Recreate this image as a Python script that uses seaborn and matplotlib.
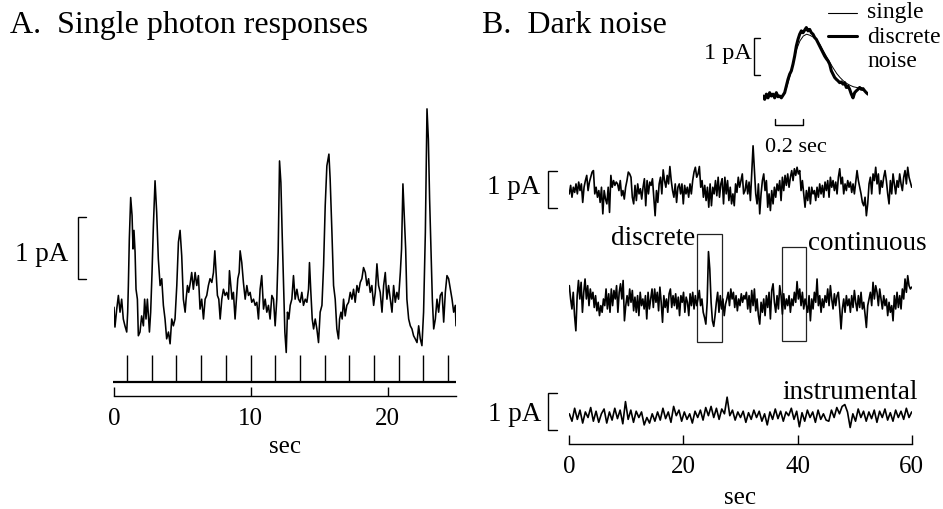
import numpy as np
import matplotlib
matplotlib.use("Agg")
import matplotlib.pyplot as plt
import seaborn as sns

# ---------------- data ----------------
# Panel A: flash times (s) and single-photon response trace
flash_times = [0.95, 2.78, 4.54, 6.37, 8.2, 10.0, 11.8, 13.6, 15.4, 17.2, 19.0, 20.8, 22.6, 24.4]
a_ticks = [0, 10, 20]
a_time = [0.0, 0.07, 0.20, 0.32, 0.44, 0.56, 0.68, 0.80, 0.93, 1.00,
          1.05, 1.12, 1.22, 1.32, 1.39, 1.46, 1.54, 1.61, 1.71, 1.78,
          1.90, 2.02, 2.15, 2.24, 2.34, 2.44, 2.59, 2.68, 2.78, 2.88,
          3.00, 3.12, 3.24, 3.37, 3.49, 3.61, 3.73, 3.85, 3.98, 4.10,
          4.22, 4.34, 4.46, 4.59, 4.71, 4.83, 4.95, 5.07, 5.20, 5.27,
          5.37, 5.46, 5.56, 5.68, 5.80, 5.93, 6.05, 6.17, 6.29, 6.41,
          6.54, 6.66, 6.78, 6.90, 7.02, 7.15, 7.27, 7.37, 7.46, 7.56,
          7.66, 7.76, 7.88, 8.00, 8.12, 8.24, 8.37, 8.44, 8.54, 8.63,
          8.73, 8.85, 8.98, 9.05, 9.15, 9.22, 9.34, 9.46, 9.59, 9.71,
          9.83, 9.95, 10.07, 10.20, 10.32, 10.44, 10.56, 10.68, 10.80, 10.93,
          11.05, 11.17, 11.29, 11.41, 11.54, 11.66, 11.78, 11.90, 12.00, 12.10,
          12.20, 12.29, 12.39, 12.49, 12.59, 12.68, 12.78, 12.88, 13.00, 13.12,
          13.24, 13.37, 13.49, 13.61, 13.73, 13.85, 13.98, 14.10, 14.22, 14.29,
          14.39, 14.49, 14.59, 14.71, 14.83, 14.95, 15.07, 15.20, 15.32, 15.44,
          15.56, 15.71, 15.80, 15.93, 16.05, 16.17, 16.29, 16.41, 16.49, 16.59,
          16.68, 16.78, 16.90, 17.02, 17.15, 17.27, 17.39, 17.51, 17.63, 17.76,
          17.88, 18.00, 18.12, 18.24, 18.37, 18.49, 18.61, 18.73, 18.85, 18.98,
          19.10, 19.22, 19.34, 19.46, 19.59, 19.71, 19.83, 19.95, 20.07, 20.20,
          20.32, 20.44, 20.56, 20.68, 20.80, 20.93, 21.02, 21.12, 21.22, 21.32,
          21.41, 21.54, 21.66, 21.78, 21.90, 22.02, 22.15, 22.27, 22.39, 22.51,
          22.63, 22.76, 22.88, 22.98, 23.07, 23.17, 23.27, 23.37, 23.49, 23.61,
          23.73, 23.85, 23.98, 24.10, 24.22, 24.34, 24.46, 24.59, 24.71, 24.83,
          24.95, 25.0]
a_current = [-0.02, -0.34, -0.05, 0.17, -0.10, 0.11, -0.21, -0.32, -0.42, -0.10,
             0.33, 1.08, 1.75, 1.46, 0.92, 1.22, 0.87, 0.27, 0.11, -0.48,
             -0.42, -0.16, -0.32, 0.11, -0.21, 0.11, -0.42, -0.10, 0.54, 1.30,
             2.02, 1.51, 0.76, 0.33, 0.44, 0.01, -0.21, -0.53, -0.42, -0.61,
             -0.21, -0.32, -0.21, 0.33, 1.03, 1.22, 0.81, 0.11, -0.10, 0.11,
             0.33, 0.22, 0.35, 0.54, 0.27, 0.54, 0.33, 0.49, -0.05, 0.11,
             -0.21, 0.11, 0.17, 0.33, 0.44, 0.38, 0.54, 0.89, 0.54, 0.17,
             0.11, -0.21, 0.11, 0.27, 0.17, 0.22, 0.11, 0.57, 0.33, 0.11,
             0.22, -0.21, 0.22, 0.44, 0.54, 0.89, 0.70, 0.38, 0.11, 0.33,
             0.17, 0.22, 0.06, 0.11, 0.01, 0.06, -0.21, 0.27, 0.49, -0.05,
             0.11, -0.10, 0.01, -0.21, 0.17, 0.11, -0.32, 0.11, 0.87, 2.34,
             1.99, 1.19, 0.38, -0.42, -0.75, -0.10, -0.21, 0.01, 0.11, 0.49,
             0.11, 0.27, 0.11, 0.06, 0.22, 0.01, 0.11, 0.06, 0.27, 0.70,
             0.22, -0.21, -0.37, -0.21, -0.37, -0.59, -0.10, 0.01, 0.65, 1.62,
             2.26, 2.45, 2.05, 1.19, 0.33, 0.11, -0.37, -0.53, -0.21, -0.10,
             -0.21, 0.11, -0.16, 0.01, 0.06, 0.22, 0.11, 0.27, 0.06, 0.33,
             0.22, 0.38, 0.44, 0.62, 0.54, 0.33, 0.44, 0.22, 0.33, 0.01,
             0.22, 0.68, 0.33, 0.22, -0.10, 0.33, 0.54, 0.11, 0.33, 0.11,
             -0.10, 0.33, 0.06, 0.22, 0.11, 0.54, 0.92, 1.97, 1.46, 0.92,
             0.11, -0.21, -0.32, -0.37, -0.48, -0.53, -0.59, -0.32, -0.53, -0.64,
             -0.10, 1.19, 3.18, 2.69, 1.73, 0.92, 0.11, -0.37, -0.21, 0.11,
             -0.10, 0.17, 0.22, -0.26, 0.22, 0.49, 0.44, 0.27, 0.11, -0.10,
             0.01, -0.32]

# Panel B: dark noise traces (pA), read in two halves (0-30.6 s, 30.8-60 s)
b_ticks = [0, 20, 40, 60]
dark1_first = [-0.09, 0.14, -0.18, 0.09, -0.05, 0.18, -0.09, 0.23, 0, 0.18,
               -0.32, 0.09, 0.27, 0.41, 0, 0.23, 0.36, 0.50, 0.54, -0.09,
               0.09, -0.18, 0, -0.32, 0.09, -0.63, 0, -0.23, -0.36, 0.09,
               -0.59, 0.41, 0.09, 0.27, 0.14, 0.23, 0.18, 0, 0.27, -0.14,
               0, -0.23, 0.09, 0.27, 0.50, 0.45, 0.36, -0.18, -0.36, 0.14,
               -0.27, 0.18, -0.09, 0.05, -0.23, 0.09, 0.32, -0.41, 0.27, -0.09,
               0.23, 0.14, 0.32, -0.18, -0.68, 0, -0.32, 0.18, 0.36, -0.09,
               0.56, 0.27, 0.09, 0.41, 0.18, 0.65, 0.27, 0, -0.18, 0.18,
               -0.32, 0.09, 0.18, -0.09, 0.18, -0.36, 0.14, -0.09, 0.09, -0.18,
               0.18, -0.09, 0.27, 0.50, 0.63, 0.36, 0.45, 0.65, 0.09, 0.27,
               -0.18, 0.14, -0.27, 0.09, -0.45, 0.18, -0.41, 0.09, -0.09, 0.27,
               -0.14, 0.36, -0.18, 0.18, 0.32, -0.36, 0.36, -0.09, 0.27, -0.27,
               0.09, -0.36, -0.09, -0.41, 0.18, -0.05, 0.36, 0.09, 0.27, 0.45,
               -0.09]
dark1_second = [0, 0.27, -0.09, 0.23, -0.27, 0.45, 1.21, 0.54, -0.09, -0.36,
                0.18, -0.63, -0.09, 0.27, 0.45, 0, 0.27, -0.45, -0.09, -0.54,
                0, -0.36, 0.09, -0.18, 0.18, 0, 0.27, -0.27, 0.36, 0,
                0.41, 0.14, 0.45, 0.09, 0.36, 0.54, 0.27, 0.59, 0.41, 0.63,
                0.45, 0.54, 0, 0.27, -0.09, -0.45, 0, -0.27, 0.09, -0.36,
                0.09, -0.09, 0, -0.27, 0.09, -0.18, 0.18, -0.09, 0.14, -0.18,
                0.23, 0, 0.27, -0.18, 0.36, 0.09, 0.27, 0, 0.23, -0.09,
                0.36, 0.59, 0.18, 0.36, -0.09, 0.18, 0, 0.27, 0.09, 0.23,
                -0.05, 0.18, -0.09, 0.23, 0.54, 0.27, 0.09, -0.09, -0.32, -0.41,
                -0.18, -0.68, -0.36, 0.18, 0.36, -0.09, 0.45, 0.27, 0.63, 0.18,
                0.45, -0.09, 0.27, 0.09, 0.36, 0.54, 0.27, -0.09, -0.36, 0.27,
                -0.09, 0.45, 0.18, -0.09, 0.27, 0.09, 0.45, 0.18, 0, 0.36,
                0.54, 0.18, 0.63, 0.36, 0.23, 0.09]
dark2_first = [0.45, 0.09, -0.18, 0.27, -0.36, -0.77, 0.18, 0.59, 0.09, 0.54,
               -0.27, 0.27, 0.63, 0.09, 0.45, -0.09, 0.36, 0.09, 0.27, -0.14,
               0.18, -0.23, 0, -0.36, -0.09, -0.27, 0.09, -0.09, 0.36, -0.18,
               0.23, -0.27, 0.36, -0.09, 0.32, 0.09, 0.45, -0.27, 0.27, 0.50,
               0.09, 0.59, -0.50, -0.09, 0.18, -0.09, 0.36, 0, 0.32, -0.23,
               0.14, -0.27, 0.18, -0.36, 0.27, -0.09, 0.09, -0.18, 0.18, -0.45,
               0.27, -0.18, 0.09, 0.36, -0.14, 0.36, 0, 0.27, -0.23, 0.41,
               0, -0.54, 0.18, -0.14, 0.09, -0.27, 0.23, 0.36, -0.14, 0.18,
               -0.09, 0.23, -0.18, 0.14, -0.36, 0.18, 0, 0.27, -0.27, 0.14,
               0, -0.36, 0.23, -0.09, 0.27, -0.18, 0.18, -0.09, 0.09, 0.32,
               -0.09, 0.09, -0.27, -0.41, -0.59, 0, 1.37, 0.90, 0, -0.50,
               -0.65, -0.36, 0, 0.27, -0.27, 0.18, -0.18, 0.09, -0.36, -0.05,
               0.09, 0.27, -0.09, 0.36, 0.09, 0.27, -0.14, 0.18, -0.23, 0.09,
               -0.09, 0.23, 0, 0.18]
dark2_second = [0.09, 0.27, -0.18, 0.18, -0.27, 0.32, -0.09, 0.36, -0.23, 0.09,
                -0.36, -0.59, 0, -0.27, 0.09, -0.36, 0.18, -0.14, 0.27, -0.45,
                0.32, 0.50, 0, -0.27, 0.18, -0.18, 0.45, 0.18, -0.32, 0.23,
                -0.18, 0.09, -0.09, 0.18, -0.27, 0.09, -0.09, 0.27, 0, 0.56,
                0.09, 0.36, -0.09, 0.27, -0.18, 0.09, -0.09, -0.27, 0.18, -0.50,
                0.09, -0.18, 0.27, 0, 0.63, -0.09, 0.18, -0.27, 0.09, -0.14,
                0.18, 0, 0.36, -0.09, 0.45, 0.09, -0.18, 0.23, -0.09, 0.18,
                0.27, -0.18, -0.72, -0.18, 0.09, -0.27, 0.18, -0.09, 0.09, -0.27,
                0.18, -0.14, 0.32, 0, -0.23, 0.18, -0.14, 0.27, -0.18, 0,
                -0.32, -0.68, -0.09, 0.09, 0.27, -0.09, 0.54, 0.09, 0.45, 0.27,
                -0.09, 0.36, 0.09, -0.18, 0.18, -0.09, 0.09, -0.36, 0, -0.27,
                -0.09, -0.50, 0.18, -0.18, 0.27, -0.14, 0.18, -0.18, 0.36, 0.09,
                0.63, 0.27, 0.72, 0.45, 0.36, 0.41]
instrumental = [0.05, -0.15, 0.20, -0.10, 0.15, -0.20, 0.10, -0.05, 0.22, -0.15,
                0.12, -0.18, 0.05, 0.18, -0.20, 0.10, -0.12, 0.20, -0.08, 0.15,
                -0.22, 0.38, -0.10, 0.15, -0.18, 0.12, -0.05, 0.10, -0.25, -0.05,
                -0.20, 0.05, -0.15, 0.10, -0.12, 0.20, -0.08, 0.10, -0.18, 0.25,
                0.00, 0.15, -0.15, 0.10, -0.10, 0.05, -0.20, 0.12, -0.05, 0.15,
                -0.12, 0.22, 0.00, 0.25, -0.05, 0.20, -0.10, 0.18, 0.05, 0.50,
                0.00, 0.15, -0.12, 0.10, -0.05, 0.12, -0.18, 0.08, -0.10, 0.15,
                -0.05, 0.12, -0.15, 0.05, -0.25, 0.10, -0.10, 0.18, -0.08, 0.12,
                -0.15, 0.10, 0.00, 0.20, -0.10, 0.12, -0.30, 0.08, -0.15, 0.15,
                -0.05, 0.10, -0.18, 0.15, -0.10, 0.05, -0.12, -0.15, 0.15, -0.05,
                0.22, 0.05, 0.25, 0.30, 0.10, -0.32, 0.05, -0.15, 0.18, -0.05,
                0.12, -0.15, 0.10, -0.08, 0.15, -0.18, 0.12, -0.05, 0.18, -0.12,
                0.08, -0.15, 0.15, -0.05, 0.12, -0.10, 0.20, -0.05, 0.10]
discrete_window = (22.45, 26.84)
continuous_window = (37.26, 41.50)

# Inset: averaged discrete noise event vs single photon response (0-0.75 s)
inset_discrete = [0, -0.09, 0.05, -0.05, 0.09, 0, 0.05, -0.05, 0.09, -0.02,
                  0, -0.05, 0.02, 0.09, 0.27, 0.45, 0.59, 0.68, 0.86, 1.08,
                  1.35, 1.53, 1.67, 1.76, 1.71, 1.78, 1.85, 1.76, 1.80, 1.71,
                  1.67, 1.58, 1.53, 1.44, 1.35, 1.26, 1.17, 1.08, 1.01, 0.95,
                  0.86, 0.68, 0.59, 0.50, 0.45, 0.41, 0.36, 0.38, 0.32, 0.36,
                  0.23, 0.27, 0.18, 0.05, -0.05, 0.09, 0.14, 0.18, 0.23, 0.18,
                  0.20, 0.14, 0.09, 0.05]
inset_single = [-0.02, 0.02, 0.23, 0.54, 0.90, 1.26, 1.49, 1.62, 1.67, 1.64,
                1.59, 1.51, 1.39, 1.22, 1.06, 0.90, 0.75, 0.61, 0.50, 0.41,
                0.34, 0.29, 0.25, 0.23, 0.21]

# ---------------- figure ----------------
sns.set_theme(style="white")
plt.rcParams["font.family"] = ["Liberation Serif", "DejaVu Serif"]
plt.rcParams["axes.edgecolor"] = "black"
plt.rcParams["xtick.color"] = "black"
plt.rcParams["xtick.bottom"] = True

W, H = 943, 510
fig = plt.figure(figsize=(W / 100, H / 100), dpi=100)
fig.patch.set_facecolor("white")


def add_ax(l, t, r, b):
    return fig.add_axes([l / W, 1 - b / H, (r - l) / W, (b - t) / H])


def ftext(x, y, s, size, ha="left"):
    fig.text(x / W, 1 - y / H, s, ha=ha, va="baseline", fontsize=size, color="black")


def bracket(ax, x0, x1, y0, y1, lw=1.0):
    ax.plot([x1, x0, x0, x1], [y1, y1, y0, y0], color="black", lw=lw,
            clip_on=False, solid_joinstyle="miter")


def style_time_axis(ax, ticks):
    for s in ["left", "right", "top"]:
        ax.spines[s].set_visible(False)
    ax.spines["bottom"].set_linewidth(1.0)
    ax.set_yticks([])
    ax.set_xticks(ticks)
    ax.set_xticklabels([str(t) for t in ticks])
    ax.tick_params(axis="x", which="major", bottom=True, direction="in",
                   length=6.5, width=1.0, color="black", labelsize=18, pad=8)
    ax.set_facecolor("none")
    ax.set_xlabel("")
    ax.set_ylabel("")


# Panel A
axA = add_ax(114, 100, 456, 397)
sns.lineplot(x=a_time, y=a_current, ax=axA, color="black", linewidth=1.15,
             estimator=None, sort=False, legend=False)
axA.set_xlim(0, 25)
axA.set_ylim(-1.452, 3.339)
style_time_axis(axA, a_ticks)
axA.hlines(-1.226, -0.07, 25, color="black", lw=1.6, clip_on=False)
axA.vlines(flash_times, -1.226, -0.79, color="black", lw=1.0)
bracket(axA, -2.63, -2.05, 0.435, 1.435)
ftext(68, 261, "1 pA", 19.5, ha="right")
ftext(10, 33, "A.  Single photon responses", 23)
ftext(285, 453, "sec", 18, ha="center")

# Panel B
axB = add_ax(569.3, 130, 911.7, 445)
off1, off2, off3 = 6.85, 3.83, 0.766
t1 = np.concatenate([np.linspace(0, 30.55, len(dark1_first)),
                     np.linspace(30.8, 60, len(dark1_second))])
v1 = np.array(dark1_first + dark1_second) + off1
t2 = np.concatenate([np.linspace(0, 30.6, len(dark2_first)),
                     np.linspace(30.8, 60, len(dark2_second))])
v2 = np.array(dark2_first + dark2_second) + off2
t3 = np.linspace(0, 60, len(instrumental))
v3 = np.array(instrumental) + off3
for tt, vv in [(t1, v1), (t2, v2), (t3, v3)]:
    sns.lineplot(x=tt, y=vv, ax=axB, color="black", linewidth=1.2,
                 estimator=None, sort=False, legend=False)
axB.set_xlim(0, 60)
axB.set_ylim(0, 8.514)
style_time_axis(axB, b_ticks)
for (w0, w1), (y0, y1) in [(discrete_window, (2.75, 5.68)),
                           (continuous_window, (2.79, 5.32))]:
    axB.add_patch(plt.Rectangle((w0, y0), w1 - w0, y1 - y0, fill=False,
                                edgecolor="#222222", lw=0.9))
bracket(axB, -3.73, -2.16, 6.37, 7.37)
bracket(axB, -3.73, -2.16, 0.39, 1.39)
ftext(540, 194, "1 pA", 19.5, ha="right")
ftext(541, 421, "1 pA", 19.5, ha="right")
ftext(695, 245, "discrete", 19.5, ha="right")
ftext(808, 250, "continuous", 19.5)
ftext(918, 399, "instrumental", 19.5, ha="right")
ftext(482, 33, "B.  Dark noise", 23)
ftext(740, 504, "sec", 18, ha="center")

# Inset
axI = add_ax(763, 20, 868, 130)
ti_d = np.linspace(0, 0.75, len(inset_discrete))
ti_s = np.linspace(0.121, 0.693, len(inset_single))
sns.lineplot(x=ti_d, y=inset_discrete, ax=axI, color="black", linewidth=2.2,
             estimator=None, sort=False, legend=False)
sns.lineplot(x=ti_s, y=inset_single, ax=axI, color="black", linewidth=0.7,
             estimator=None, sort=False, legend=False)
axI.set_xlim(0, 0.75)
axI.set_ylim(-0.892, 2.081)
axI.axis("off")
bracket(axI, -0.064, -0.021, 0.56, 1.56)
axI.plot([0.086, 0.086, 0.286, 0.286], [-0.62, -0.78, -0.78, -0.62],
         color="black", lw=1.0, clip_on=False)
axI.plot([0.464, 0.671], [2.24, 2.24], color="black", lw=0.8, clip_on=False)
axI.plot([0.464, 0.671], [1.62, 1.62], color="black", lw=2.2, clip_on=False)
ftext(752, 59, "1 pA", 17.5, ha="right")
ftext(765, 152, "0.2 sec", 16)
ftext(867, 18, "single", 17)
ftext(867, 43, "discrete", 17)
ftext(867, 67, "noise", 17)

fig.savefig("out.png", dpi=100, facecolor="white")
